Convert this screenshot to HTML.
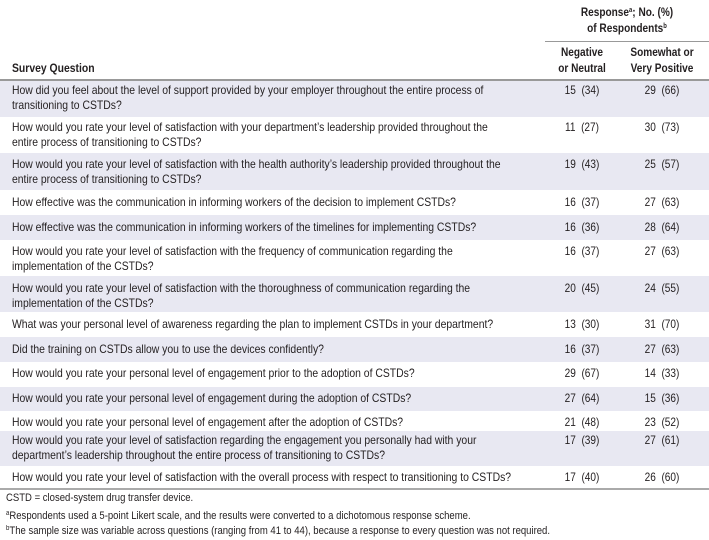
<!DOCTYPE html>
<html><head><meta charset="utf-8"><style>
body{margin:0;width:709px;height:540px;background:#fff;position:relative;overflow:hidden;font-family:"Liberation Sans",Arial,sans-serif;color:#231f20;font-size:12px}
.t{position:absolute;white-space:nowrap;transform:scaleX(.866);transform-origin:0 0;line-height:15px}
.c{position:absolute;white-space:nowrap;transform:translateX(-50%) scaleX(.84);line-height:15px;text-align:center}
.bg{position:absolute;left:0;width:709px;background:#e8e8f2}
.b{font-weight:bold}
sup{font-size:7px;vertical-align:4px}
.r{position:absolute;left:0;width:709px;height:1px;background:#bbb}
</style></head><body>
<div class="c b" style="left:627px;top:3px">Response<sup>a</sup>; No. (%)</div>
<div class="c b" style="left:627px;top:19px">of Respondents<sup>b</sup></div>
<div class="r" style="left:545px;width:164px;top:41px;background:#999"></div>
<div class="c b" style="left:582px;top:45px">Negative</div>
<div class="c b" style="left:582px;top:61px">or Neutral</div>
<div class="c b" style="left:662px;top:45px">Somewhat or</div>
<div class="c b" style="left:662px;top:61px">Very Positive</div>
<div class="t b" style="left:12px;top:61px">Survey Question</div>
<div class="r" style="top:79px;height:2px;background:#999"></div>

<div class="bg" style="top:81px;height:36px"></div>
<div class="bg" style="top:153px;height:37px"></div>
<div class="bg" style="top:215px;height:25px"></div>
<div class="bg" style="top:276px;height:36px"></div>
<div class="bg" style="top:337px;height:25px"></div>
<div class="bg" style="top:387px;height:24px"></div>
<div class="bg" style="top:431px;height:35px"></div>
<div class="r" style="top:488px;height:2px;background:#aaa"></div>

<div class="t" style="left:12px;top:83px">How did you feel about the level of support provided by your employer throughout the entire process of<br>transitioning to CSTDs?</div>
<div class="t" style="left:12px;top:120px">How would you rate your level of satisfaction with your department’s leadership provided throughout the<br>entire process of transitioning to CSTDs?</div>
<div class="t" style="left:12px;top:157px">How would you rate your level of satisfaction with the health authority’s leadership provided throughout the<br>entire process of transitioning to CSTDs?</div>
<div class="t" style="left:12px;top:195px">How effective was the communication in informing workers of the decision to implement CSTDs?</div>
<div class="t" style="left:12px;top:220px">How effective was the communication in informing workers of the timelines for implementing CSTDs?</div>
<div class="t" style="left:12px;top:244px">How would you rate your level of satisfaction with the frequency of communication regarding the<br>implementation of the CSTDs?</div>
<div class="t" style="left:12px;top:281px">How would you rate your level of satisfaction with the thoroughness of communication regarding the<br>implementation of the CSTDs?</div>
<div class="t" style="left:12px;top:317px">What was your personal level of awareness regarding the plan to implement CSTDs in your department?</div>
<div class="t" style="left:12px;top:342px">Did the training on CSTDs allow you to use the devices confidently?</div>
<div class="t" style="left:12px;top:366px">How would you rate your personal level of engagement prior to the adoption of CSTDs?</div>
<div class="t" style="left:12px;top:391px">How would you rate your personal level of engagement during the adoption of CSTDs?</div>
<div class="t" style="left:12px;top:415px">How would you rate your personal level of engagement after the adoption of CSTDs?</div>
<div class="t" style="left:12px;top:433px">How would you rate your level of satisfaction regarding the engagement you personally had with your<br>department’s leadership throughout the entire process of transitioning to CSTDs?</div>
<div class="t" style="left:12px;top:470px">How would you rate your level of satisfaction with the overall process with respect to transitioning to CSTDs?</div>

<div class="c" style="left:582px;top:83px">15&nbsp;&nbsp;(34)</div><div class="c" style="left:662px;top:83px">29&nbsp;&nbsp;(66)</div>
<div class="c" style="left:582px;top:120px">11&nbsp;&nbsp;(27)</div><div class="c" style="left:662px;top:120px">30&nbsp;&nbsp;(73)</div>
<div class="c" style="left:582px;top:157px">19&nbsp;&nbsp;(43)</div><div class="c" style="left:662px;top:157px">25&nbsp;&nbsp;(57)</div>
<div class="c" style="left:582px;top:195px">16&nbsp;&nbsp;(37)</div><div class="c" style="left:662px;top:195px">27&nbsp;&nbsp;(63)</div>
<div class="c" style="left:582px;top:220px">16&nbsp;&nbsp;(36)</div><div class="c" style="left:662px;top:220px">28&nbsp;&nbsp;(64)</div>
<div class="c" style="left:582px;top:244px">16&nbsp;&nbsp;(37)</div><div class="c" style="left:662px;top:244px">27&nbsp;&nbsp;(63)</div>
<div class="c" style="left:582px;top:281px">20&nbsp;&nbsp;(45)</div><div class="c" style="left:662px;top:281px">24&nbsp;&nbsp;(55)</div>
<div class="c" style="left:582px;top:317px">13&nbsp;&nbsp;(30)</div><div class="c" style="left:662px;top:317px">31&nbsp;&nbsp;(70)</div>
<div class="c" style="left:582px;top:342px">16&nbsp;&nbsp;(37)</div><div class="c" style="left:662px;top:342px">27&nbsp;&nbsp;(63)</div>
<div class="c" style="left:582px;top:366px">29&nbsp;&nbsp;(67)</div><div class="c" style="left:662px;top:366px">14&nbsp;&nbsp;(33)</div>
<div class="c" style="left:582px;top:391px">27&nbsp;&nbsp;(64)</div><div class="c" style="left:662px;top:391px">15&nbsp;&nbsp;(36)</div>
<div class="c" style="left:582px;top:415px">21&nbsp;&nbsp;(48)</div><div class="c" style="left:662px;top:415px">23&nbsp;&nbsp;(52)</div>
<div class="c" style="left:582px;top:433px">17&nbsp;&nbsp;(39)</div><div class="c" style="left:662px;top:433px">27&nbsp;&nbsp;(61)</div>
<div class="c" style="left:582px;top:470px">17&nbsp;&nbsp;(40)</div><div class="c" style="left:662px;top:470px">26&nbsp;&nbsp;(60)</div>

<div class="t" style="left:6px;top:491px;font-size:11px">CSTD = closed-system drug transfer device.</div>
<div class="t" style="left:6px;top:506px;font-size:11px"><sup>a</sup>Respondents used a 5-point Likert scale, and the results were converted to a dichotomous response scheme.</div>
<div class="t" style="left:6px;top:521px;font-size:11px"><sup>b</sup>The sample size was variable across questions (ranging from 41 to 44), because a response to every question was not required.</div>
</body></html>
